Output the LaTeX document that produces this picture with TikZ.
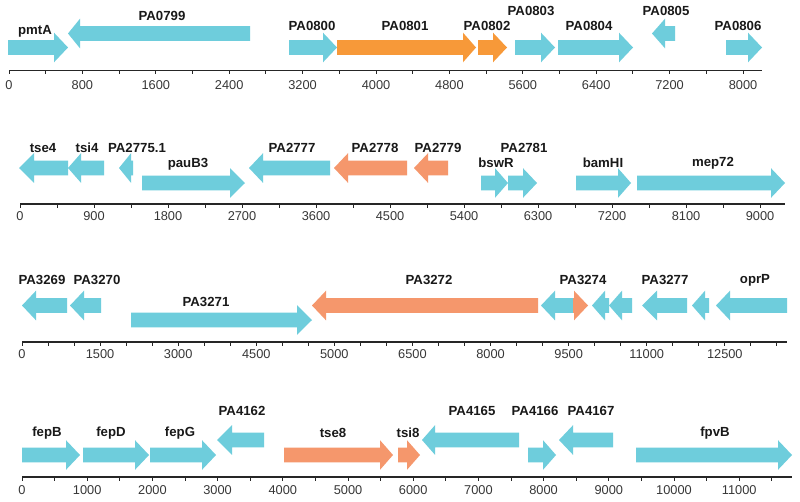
\documentclass[tikz,border=0pt]{standalone}
\usepackage{fontspec}
\setmainfont{Liberation Sans}
\usepackage{xcolor}
\definecolor{geneCyan}{RGB}{110, 205, 220}
\definecolor{geneOrange}{RGB}{247, 153, 57}
\definecolor{geneSalmon}{RGB}{245, 151, 108}
\definecolor{labelText}{RGB}{25, 25, 25}
\definecolor{axisText}{RGB}{55, 55, 55}

% tail, head base, tip, centre y, colour
\newcommand{\genearrow}[5]{%
  \fill[#5] (#1,#4-7.3) -- (#2,#4-7.3) -- (#2,#4-14.8) -- (#3,#4)
    -- (#2,#4+14.8) -- (#2,#4+7.3) -- (#1,#4+7.3) -- cycle;}

\begin{document}
\begin{tikzpicture}[
    x=1pt, y=-1pt,
    geneLabel/.style={font=\bfseries\fontsize{13.2}{15}\selectfont, text=labelText, inner sep=0pt},
    axisLabel/.style={font=\fontsize{12.8}{14}\selectfont, text=axisText, inner sep=0pt},
    axisLine/.style={line width=1.3pt, draw=black!85},
    tickLine/.style={line width=0.9pt, draw=black!85}
]
    \useasboundingbox[fill=white] (0,0) rectangle (800,501);

    % Row 1
    \genearrow{8}{54}{68}{47.5}{geneCyan}
    \genearrow{250}{80}{68}{33.5}{geneCyan}
    \genearrow{289}{323}{337}{47.5}{geneCyan}
    \genearrow{337}{463}{476}{47.5}{geneOrange}
    \genearrow{478}{493}{507}{47.5}{geneOrange}
    \genearrow{515}{541}{555}{47.5}{geneCyan}
    \genearrow{558}{619}{633}{47.5}{geneCyan}
    \genearrow{675}{665}{652}{33.5}{geneCyan}
    \genearrow{726}{748}{762}{47.5}{geneCyan}

    \node[geneLabel] (pmtA) at (35,31) {pmtA};
    \node[geneLabel] (pa0799) at (162,16) {PA0799};
    \node[geneLabel] (pa0800) at (312,26) {PA0800};
    \node[geneLabel] (pa0801) at (405,26) {PA0801};
    \node[geneLabel] (pa0802) at (487,26) {PA0802};
    \node[geneLabel] (pa0803) at (531,11) {PA0803};
    \node[geneLabel] (pa0804) at (589,26) {PA0804};
    \node[geneLabel] (pa0805) at (666,11) {PA0805};
    \node[geneLabel] (pa0806) at (738,26) {PA0806};

    \draw[axisLine] (9,70.5) -- (762,70.5);
    \foreach \k in {0,...,20}
        \draw[tickLine] ({9+36.7*\k},70.5) -- ++(0,3.5);
    \foreach \k/\t in {0/0,2/800,4/1600,6/2400,8/3200,10/4000,12/4800,14/5600,16/6400,18/7200,20/8000}
        \node[axisLabel] (axa-\k) at ({9+36.7*\k},85) {\t};

    % Row 2
    \genearrow{68}{34}{19}{168}{geneCyan}
    \genearrow{104}{81}{68}{168}{geneCyan}
    \genearrow{133}{131}{119}{168}{geneCyan}
    \genearrow{142}{230}{245}{183}{geneCyan}
    \genearrow{330}{263}{249}{168}{geneCyan}
    \genearrow{407}{348}{334}{168}{geneSalmon}
    \genearrow{448}{428}{414}{168}{geneSalmon}
    \genearrow{481}{495}{508}{183}{geneCyan}
    \genearrow{508}{523}{537}{183}{geneCyan}
    \genearrow{576}{618}{631}{183}{geneCyan}
    \genearrow{637}{771}{785}{183}{geneCyan}

    \node[geneLabel] (tse4) at (43,148) {tse4};
    \node[geneLabel] (tsi4) at (87,148) {tsi4};
    \node[geneLabel] (pa2775a) at (137,148) {PA2775.1};
    \node[geneLabel] (pauB3) at (188,164) {pauB3};
    \node[geneLabel] (pa2777) at (292,148) {PA2777};
    \node[geneLabel] (pa2778) at (375,148) {PA2778};
    \node[geneLabel] (pa2779) at (438,148) {PA2779};
    \node[geneLabel] (bswR) at (496,163) {bswR};
    \node[geneLabel] (pa2781) at (524,148) {PA2781};
    \node[geneLabel] (bamHI) at (603,163) {bamHI};
    \node[geneLabel] (mep72) at (713,163) {mep72};

    \draw[axisLine] (20,204) -- (785,204);
    \foreach \k in {0,...,20}
        \draw[tickLine] ({20+37*\k},204) -- ++(0,3.5);
    \foreach \k/\t in {0/0,2/900,4/1800,6/2700,8/3600,10/4500,12/5400,14/6300,16/7200,18/8100,20/9000}
        \node[axisLabel] (axb-\k) at ({20+37*\k},216) {\t};

    % Row 3
    \genearrow{67}{36}{22}{305.5}{geneCyan}
    \genearrow{101}{84}{70}{305.5}{geneCyan}
    \genearrow{131}{297}{312}{320}{geneCyan}
    \genearrow{538}{326}{312}{305.5}{geneSalmon}
    \genearrow{573}{555}{541}{305.5}{geneCyan}
    \genearrow{573}{574}{588}{305.5}{geneSalmon}
    \genearrow{609}{605}{592}{305.5}{geneCyan}
    \genearrow{632}{622}{609}{305.5}{geneCyan}
    \genearrow{687}{657}{642}{305.5}{geneCyan}
    \genearrow{709}{705}{692}{305.5}{geneCyan}
    \genearrow{787}{730}{716}{305.5}{geneCyan}

    \node[geneLabel] (pa3269) at (42,280) {PA3269};
    \node[geneLabel] (pa3270) at (97,280) {PA3270};
    \node[geneLabel] (pa3271) at (206,302) {PA3271};
    \node[geneLabel] (pa3272) at (429,280) {PA3272};
    \node[geneLabel] (pa3274) at (583,280) {PA3274};
    \node[geneLabel] (pa3277) at (665,280) {PA3277};
    \node[geneLabel] (oprP) at (755,280) {oprP};

    \draw[axisLine] (22,342) -- (787,342);
    \foreach \k in {0,...,29}
        \draw[tickLine] ({22+26.03*\k},342) -- ++(0,3.5);
    \foreach \k/\t in {0/0,3/1500,6/3000,9/4500,12/5000,15/6500,18/8000,21/9500,24/11000,27/12500}
        \node[axisLabel] (axc-\k) at ({22+26.03*\k},354) {\t};

    % Row 4
    \genearrow{22}{66}{80}{455}{geneCyan}
    \genearrow{83}{135}{149}{455}{geneCyan}
    \genearrow{150}{202}{216}{455}{geneCyan}
    \genearrow{264}{232}{217}{440}{geneCyan}
    \genearrow{284}{380}{393}{455}{geneSalmon}
    \genearrow{398}{407}{420}{455}{geneSalmon}
    \genearrow{519}{435}{422}{440}{geneCyan}
    \genearrow{528}{543}{556}{455}{geneCyan}
    \genearrow{613}{573}{559}{440}{geneCyan}
    \genearrow{636}{778}{792}{455}{geneCyan}

    \node[geneLabel] (fepB) at (47,433) {fepB};
    \node[geneLabel] (fepD) at (111,433) {fepD};
    \node[geneLabel] (fepG) at (180,433) {fepG};
    \node[geneLabel] (pa4162) at (242,411) {PA4162};
    \node[geneLabel] (tse8) at (333,433) {tse8};
    \node[geneLabel] (tsi8) at (408,433) {tsi8};
    \node[geneLabel] (pa4165) at (472,411) {PA4165};
    \node[geneLabel] (pa4166) at (535,411) {PA4166};
    \node[geneLabel] (pa4167) at (591,411) {PA4167};
    \node[geneLabel] (fpvB) at (715,433) {fpvB};

    \draw[axisLine] (22,477) -- (792,477);
    \foreach \k in {0,...,23}
        \draw[tickLine] ({22+32.6*\k},477) -- ++(0,3.5);
    \foreach \k/\t in {0/0,2/1000,4/2000,6/3000,8/4000,10/5000,12/6000,14/7000,16/8000,18/9000,20/10000,22/11000}
        \node[axisLabel] (axd-\k) at ({22+32.6*\k},490) {\t};

\end{tikzpicture}
\end{document}
